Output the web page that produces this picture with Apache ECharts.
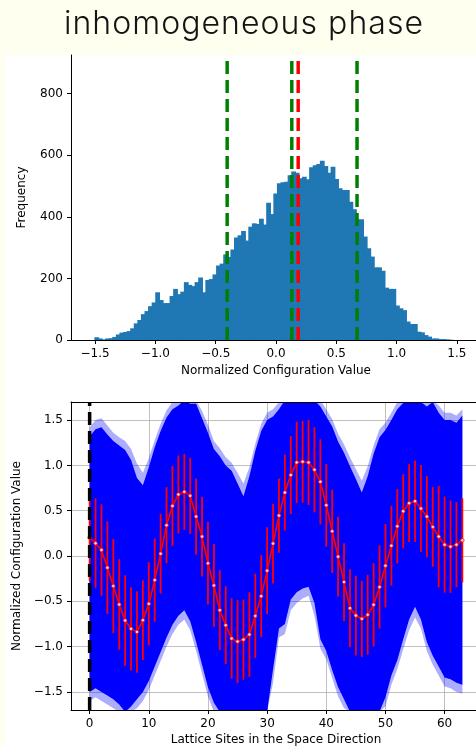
<!DOCTYPE html>
<html>
<head>
<meta charset="utf-8">
<script src="https://cdn.jsdelivr.net/npm/echarts@6/dist/echarts.min.js"></script>
<style>
  html, body { margin: 0; padding: 0; background: #fffff0; }
  #frame { position: absolute; left: 5px; top: 55px; width: 471px; height: 691px; background: #ffffff; }
  #chart { position: absolute; left: 0; top: 0; width: 476px; height: 746px; }
  #title {
    position: absolute; left: 244px; top: 7px; transform: translateX(-50%);
    white-space: nowrap; font-family: Inter, sans-serif; font-weight: 300;
    font-size: 32px; line-height: 32px; letter-spacing: 1.05px; color: #141414;
  }
</style>
</head>
<body>
<div id="frame"></div>
<div id="chart"></div>
<div id="title">inhomogeneous phase</div>
<script>
// ---- histogram of normalized configuration values (100 bins) ----
const histRange = [-1.506, 1.462];
const histCounts = [
  9, 5, 2, 5, 6, 10, 18, 24, 26, 29,
  38, 54, 65, 84, 94, 110, 122, 155, 130, 120,
  120, 143, 166, 149, 157, 188, 179, 175, 188, 203,
  155, 195, 198, 213, 242, 248, 278, 270, 294, 333,
  340, 354, 323, 368, 379, 377, 394, 375, 446, 409,
  476, 509, 512, 514, 535, 547, 543, 525, 530, 522,
  561, 568, 572, 582, 565, 543, 563, 523, 493, 487,
  487, 449, 425, 392, 392, 336, 298, 271, 236, 236,
  225, 170, 166, 166, 112, 103, 97, 60, 52, 52,
  27, 25, 16, 11, 5, 5, 3, 3, 2, 1
];
const greenMarkers = [-0.405, 0.131, 0.672];
const redMarkers = [0.184];
const histXTicks = [-1.5, -1.0, -0.5, 0.0, 0.5, 1.0, 1.5];
const histYTicks = [0, 200, 400, 600, 800];

// ---- per-site profile along the space direction ----
const sites = [
  0, 1, 2, 3, 4, 5, 6, 7, 8, 9, 10, 11, 12, 13, 14, 15,
  16, 17, 18, 19, 20, 21, 22, 23, 24, 25, 26, 27, 28, 29, 30, 31,
  32, 33, 34, 35, 36, 37, 38, 39, 40, 41, 42, 43, 44, 45, 46, 47,
  48, 49, 50, 51, 52, 53, 54, 55, 56, 57, 58, 59, 60, 61, 62, 63
];
const siteMean = [
  0.203, 0.14, 0.066, -0.129, -0.332, -0.535, -0.712, -0.804, -0.838, -0.708,
  -0.528, -0.266, 0.026, 0.34, 0.553, 0.679, 0.708, 0.664, 0.435, 0.214,
  -0.081, -0.325, -0.598, -0.764, -0.911, -0.945, -0.923, -0.867, -0.661, -0.443,
  -0.162, 0.137, 0.446, 0.70, 0.893, 1.033, 1.041, 1.033, 0.952, 0.819,
  0.561, 0.273, -0.007, -0.288, -0.576, -0.657, -0.694, -0.649, -0.539, -0.343,
  -0.107, 0.114, 0.328, 0.494, 0.583, 0.605, 0.524, 0.435, 0.321, 0.214,
  0.125, 0.103, 0.125, 0.173
];
const siteStd = [
  0.48, 0.495, 0.504, 0.51, 0.52, 0.50, 0.50, 0.46, 0.45, 0.44,
  0.46, 0.46, 0.44, 0.42, 0.44, 0.43, 0.42, 0.42, 0.42, 0.44,
  0.455, 0.457, 0.44, 0.43, 0.444, 0.457, 0.443, 0.466, 0.465, 0.453,
  0.48, 0.44, 0.41, 0.42, 0.43, 0.45, 0.45, 0.47, 0.47, 0.47,
  0.456, 0.46, 0.44, 0.43, 0.43, 0.44, 0.42, 0.44, 0.46, 0.46,
  0.46, 0.44, 0.41, 0.41, 0.43, 0.45, 0.48, 0.45, 0.44, 0.56,
  0.53, 0.51, 0.47, 0.465
];
// envelope of the individual configurations: dense core and sparse fringe
const coreUpper = [
  1.32, 1.40, 1.42, 1.34, 1.27, 1.22, 1.17, 1.06, 0.86, 0.78,
  0.98, 1.20, 1.38, 1.53, 1.62, 1.66, 1.72, 1.68, 1.68, 1.52,
  1.36, 1.18, 1.10, 1.00, 0.94, 0.80, 0.66, 0.88, 1.16, 1.38,
  1.50, 1.54, 1.62, 1.72, 1.72, 1.72, 1.72, 1.72, 1.72, 1.65,
  1.54, 1.43, 1.26, 1.14, 0.99, 0.85, 0.70, 0.88, 1.13, 1.31,
  1.39, 1.50, 1.62, 1.69, 1.72, 1.72, 1.70, 1.65, 1.70, 1.58,
  1.50, 1.50, 1.47, 1.55
];
const coreLower = [
  -1.50, -1.46, -1.50, -1.54, -1.58, -1.64, -1.72, -1.66, -1.58, -1.50,
  -1.38, -1.22, -1.06, -0.90, -0.76, -0.66, -0.60, -0.72, -0.95, -1.20,
  -1.45, -1.62, -1.72, -1.72, -1.72, -1.72, -1.72, -1.72, -1.72, -1.72,
  -1.72, -1.25, -0.80, -0.75, -0.48, -0.40, -0.36, -0.34, -0.52, -0.92,
  -1.05, -1.26, -1.45, -1.58, -1.72, -1.72, -1.72, -1.72, -1.72, -1.72,
  -1.56, -1.32, -1.15, -0.92, -0.70, -0.56, -0.70, -0.95, -1.10, -1.22,
  -1.34, -1.36, -1.40, -1.42
];
const fringeUpper = [
  1.42, 1.50, 1.52, 1.44, 1.36, 1.31, 1.27, 1.18, 1.02, 0.92,
  1.08, 1.28, 1.46, 1.61, 1.70, 1.72, 1.72, 1.72, 1.72, 1.60,
  1.45, 1.27, 1.19, 1.09, 1.03, 0.92, 0.80, 0.98, 1.24, 1.46,
  1.58, 1.62, 1.70, 1.72, 1.72, 1.72, 1.72, 1.72, 1.72, 1.72,
  1.62, 1.51, 1.35, 1.23, 1.09, 0.96, 0.83, 0.99, 1.22, 1.40,
  1.47, 1.58, 1.70, 1.72, 1.72, 1.72, 1.72, 1.72, 1.72, 1.66,
  1.58, 1.58, 1.55, 1.62
];
const fringeLower = [
  -1.60, -1.56, -1.60, -1.64, -1.68, -1.72, -1.72, -1.72, -1.68, -1.60,
  -1.48, -1.32, -1.16, -1.00, -0.86, -0.76, -0.70, -0.82, -1.05, -1.30,
  -1.55, -1.72, -1.72, -1.72, -1.72, -1.72, -1.72, -1.72, -1.72, -1.72,
  -1.72, -1.40, -0.90, -0.86, -0.60, -0.52, -0.47, -0.44, -0.66, -1.02,
  -1.14, -1.35, -1.55, -1.68, -1.72, -1.72, -1.72, -1.72, -1.72, -1.72,
  -1.66, -1.42, -1.25, -1.03, -0.82, -0.68, -0.80, -1.05, -1.20, -1.32,
  -1.44, -1.46, -1.50, -1.52
];
const siteXTicks = [0, 10, 20, 30, 40, 50, 60];
const siteYTicks = [-1.5, -1.0, -0.5, 0.0, 0.5, 1.0, 1.5];

// ---- styling ----
const FONT = 'DejaVu Sans';
const labelStyle = { fontFamily: FONT, fontSize: 12, color: '#000' };
const minus = (s) => s.replace('-', '\u2212');
const HIST_YMAX = 925.7;
const PROF_YLIM = [-1.7, 1.7];

const binWidth = (histRange[1] - histRange[0]) / histCounts.length;
const histData = histCounts.map((c, k) => [histRange[0] + k * binWidth, histRange[0] + (k + 1) * binWidth, c]);

function spine(extra) {
  return Object.assign({
    type: 'value',
    z: 10,
    axisLine: { show: true, onZero: false, lineStyle: { color: '#000', width: 1 } },
    axisTick: { show: false },
    axisLabel: { show: false },
    splitLine: { show: false }
  }, extra);
}

function tickedAxis(ticks, fmt, name, nameGap, extra) {
  return Object.assign({
    type: 'value',
    z: 10,
    axisLine: { show: true, onZero: false, lineStyle: { color: '#000', width: 1 } },
    axisTick: { show: true, length: 4, customValues: ticks, lineStyle: { color: '#000', width: 1 } },
    axisLabel: Object.assign({ customValues: ticks, formatter: fmt, margin: 8 }, labelStyle),
    splitLine: { show: false },
    name: name,
    nameLocation: 'middle',
    nameGap: nameGap,
    nameTextStyle: labelStyle
  }, extra);
}

function gridLines(ticks, extra) {
  return Object.assign({
    type: 'value',
    z: 0,
    axisLine: { show: false },
    axisTick: { show: false, customValues: ticks },
    axisLabel: { show: false, customValues: ticks },
    splitLine: { show: true, lineStyle: { color: '#b0b0b0', width: 0.8 } }
  }, extra);
}

function vline(x, y0, y1, color, xi, yi) {
  return {
    type: 'line', xAxisIndex: xi, yAxisIndex: yi, z: 6,
    data: [[x, y0], [x, y1]],
    symbol: 'none', silent: true, animation: false,
    lineStyle: { color: color, width: 3.5, type: [13, 6] }
  };
}

function envelope(upper, lower, fill, z) {
  return {
    type: 'custom', xAxisIndex: 1, yAxisIndex: 1, z: z, clip: true, animation: false, silent: true,
    data: sites.map((s, i) => [s, lower[i], upper[i]]),
    encode: { x: 0, y: [1, 2] },
    renderItem: function (params, api) {
      if (params.dataIndex !== 0) return null;
      const pts = [];
      for (let i = 0; i < sites.length; i++) pts.push(api.coord([sites[i], upper[i]]));
      for (let i = sites.length - 1; i >= 0; i--) pts.push(api.coord([sites[i], lower[i]]));
      return { type: 'polygon', shape: { points: pts }, style: { fill: fill } };
    }
  };
}

const chart = echarts.init(document.getElementById('chart'), null, { renderer: 'canvas' });

chart.setOption({
  backgroundColor: 'transparent',
  animation: false,
  textStyle: { fontFamily: FONT },
  grid: [
    { left: 71, top: 55, width: 410, height: 285, outerBoundsMode: 'none', containLabel: false },
    { left: 71, top: 402, width: 410, height: 308, outerBoundsMode: 'none', containLabel: false }
  ],
  xAxis: [
    tickedAxis(histXTicks, v => minus(v.toFixed(1)), 'Normalized Configuration Value', 25,
      { gridIndex: 0, min: -1.7, max: 1.7, position: 'bottom' }),
    tickedAxis(siteXTicks, v => String(v), 'Lattice Sites in the Space Direction', 24,
      { gridIndex: 1, min: -3.15, max: 66.15, position: 'bottom' }),
    spine({ gridIndex: 1, min: -3.15, max: 66.15, position: 'top' }),
    gridLines(siteXTicks, { gridIndex: 1, min: -3.15, max: 66.15, position: 'bottom' })
  ],
  yAxis: [
    tickedAxis(histYTicks, v => String(v), 'Frequency', 43,
      { gridIndex: 0, min: 0, max: HIST_YMAX, position: 'left' }),
    tickedAxis(siteYTicks, v => minus(v.toFixed(1)), 'Normalized Configuration Value', 44,
      { gridIndex: 1, min: PROF_YLIM[0], max: PROF_YLIM[1], position: 'left' }),
    gridLines(siteYTicks, { gridIndex: 1, min: PROF_YLIM[0], max: PROF_YLIM[1], position: 'right' })
  ],
  series: [
    {
      type: 'custom', xAxisIndex: 0, yAxisIndex: 0, z: 2, animation: false, silent: true,
      data: histData,
      encode: { x: [0, 1], y: 2 },
      renderItem: function (params, api) {
        const a = api.coord([api.value(0), api.value(2)]);
        const b = api.coord([api.value(1), 0]);
        // bars overlap by a pixel so neighbouring bins join without seams
        return {
          type: 'rect',
          shape: { x: a[0], y: a[1], width: b[0] - a[0] + 1.2, height: b[1] - a[1] },
          style: { fill: '#1f77b4' }
        };
      }
    },
    ...greenMarkers.map(x => vline(x, 0, HIST_YMAX, '#008000', 0, 0)),
    ...redMarkers.map(x => vline(x, 0, HIST_YMAX, '#ff0000', 0, 0)),

    envelope(fringeUpper, fringeLower, 'rgba(0,0,255,0.32)', 2),
    envelope(coreUpper, coreLower, '#0000ff', 3),
    {
      type: 'custom', xAxisIndex: 1, yAxisIndex: 1, z: 4, animation: false, silent: true, clip: true,
      data: sites.map((s, i) => [s, siteMean[i], siteStd[i]]),
      encode: { x: 0, y: 1 },
      renderItem: function (params, api) {
        const x = api.value(0), m = api.value(1), e = api.value(2);
        const p = api.coord([x, m + e]);
        const q = api.coord([x, m - e]);
        return {
          type: 'line',
          shape: { x1: p[0], y1: p[1], x2: q[0], y2: q[1] },
          style: { stroke: '#ff0000', lineWidth: 1.8 }
        };
      }
    },
    {
      type: 'line', xAxisIndex: 1, yAxisIndex: 1, z: 5, animation: false, silent: true,
      data: sites.map((s, i) => [s, siteMean[i]]),
      symbol: 'circle', symbolSize: 3.5, showSymbol: true,
      lineStyle: { color: '#ff0000', width: 1.6 },
      itemStyle: { color: '#ffd6d6', borderColor: '#ff0000', borderWidth: 0.8 }
    },
    vline(0, PROF_YLIM[0], PROF_YLIM[1], '#000000', 1, 1)
  ]
});
</script>
</body>
</html>
